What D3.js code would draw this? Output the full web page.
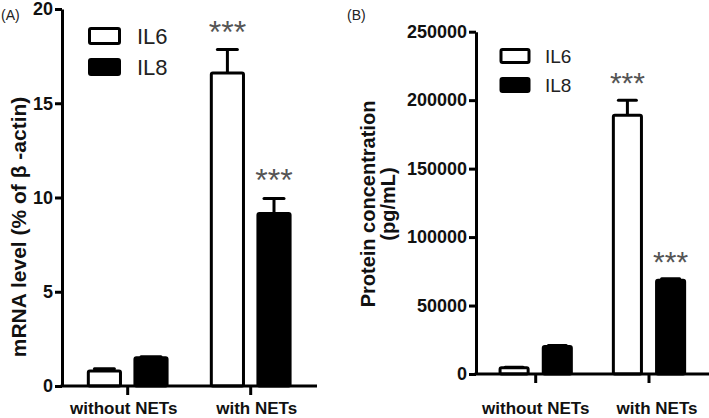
<!DOCTYPE html>
<html>
<head>
<meta charset="utf-8">
<script src="https://cdn.jsdelivr.net/npm/d3@7"></script>
<style>
  html, body { margin: 0; padding: 0; background: #fff; }
  svg { display: block; font-family: "Liberation Sans", Arial, Helvetica, sans-serif; }
</style>
</head>
<body>
<svg id="chart" width="709" height="418"></svg>
<script>
// ---- data ----
const categories = ["without NETs", "with NETs"];
const seriesNames = ["IL6", "IL8"];

// Panel A: mRNA level (% of β-actin)
const mrnaIL6 = [0.8, 16.6];
const mrnaIL6Err = [0.12, 1.25];
const mrnaIL8 = [1.5, 9.15];
const mrnaIL8Err = [0.05, 0.8];
const mrnaTicks = [0, 5, 10, 15, 20];

// Panel B: protein concentration (pg/mL)
const protIL6 = [4500, 189000];
const protIL6Err = [500, 11000];
const protIL8 = [20000, 68500];
const protIL8Err = [800, 1000];
const protTicks = [0, 50000, 100000, 150000, 200000, 250000];

// significance marks (per category, per series)
const sigIL6 = ["", "***"];
const sigIL8 = ["", "***"];

const svg = d3.select("#chart");
const fills = { IL6: "#ffffff", IL8: "#000000" };

function panel(cfg) {
  const g = svg.append("g");
  const y = d3.scaleLinear().domain([0, cfg.ymax]).range([cfg.y0, cfg.y1]);
  const x = d3.scaleBand().domain(categories).range(cfg.xRange).padding(0);
  const xs = d3.scaleBand().domain(seriesNames)
    .range([-cfg.sub, cfg.sub]).paddingInner(cfg.pi).paddingOuter(cfg.pi / 2);

  const rows = [];
  categories.forEach((c, i) => {
    rows.push({ c, s: "IL6", v: cfg.il6[i], e: cfg.il6e[i], sig: sigIL6[i] });
    rows.push({ c, s: "IL8", v: cfg.il8[i], e: cfg.il8e[i], sig: sigIL8[i] });
  });

  // error bars (upward only)
  const eg = g.append("g");
  rows.forEach(d => {
    const cx = x(d.c) + x.bandwidth() / 2 + xs(d.s) + xs.bandwidth() / 2;
    eg.append("line").attr("x1", cx).attr("x2", cx)
      .attr("y1", y(d.v)).attr("y2", y(d.v + d.e))
      .attr("stroke", "#000").attr("stroke-width", 3);
    eg.append("line").attr("x1", cx - cfg.cap).attr("x2", cx + cfg.cap)
      .attr("y1", y(d.v + d.e)).attr("y2", y(d.v + d.e))
      .attr("stroke", "#000").attr("stroke-width", 3).attr("stroke-linecap", "round");
  });

  // bars
  g.append("g").selectAll("rect").data(rows).join("rect")
    .attr("x", d => x(d.c) + x.bandwidth() / 2 + xs(d.s))
    .attr("width", xs.bandwidth())
    .attr("y", d => y(d.v))
    .attr("height", d => y(0) - y(d.v))
    .attr("rx", 1.5)
    .attr("fill", d => fills[d.s])
    .attr("stroke", "#000").attr("stroke-width", 3);

  // significance stars
  g.append("g").selectAll("text").data(rows.filter(d => d.sig)).join("text")
    .attr("x", d => x(d.c) + x.bandwidth() / 2 + xs(d.s) + xs.bandwidth() / 2)
    .attr("y", d => y(d.v + d.e) + cfg.starOff)
    .attr("text-anchor", "middle")
    .attr("font-size", cfg.starSize)
    .attr("fill", "#555")
    .text(d => d.sig);

  // y axis
  const ya = g.append("g").attr("transform", `translate(${cfg.xAxis},0)`)
    .call(d3.axisLeft(y).tickValues(cfg.ticks).tickSize(7).tickSizeOuter(0).tickPadding(2)
      .tickFormat(d3.format("d")));
  ya.select(".domain").attr("stroke-width", 3);
  ya.selectAll(".tick line").attr("stroke-width", 3);
  ya.selectAll(".tick text").attr("font-size", cfg.tickSize).attr("font-weight", "bold")
    .attr("fill", "#111").attr("font-family", "'Liberation Sans', Arial, sans-serif");

  // x axis
  const xa = g.append("g").attr("transform", `translate(0,${cfg.y0})`)
    .call(d3.axisBottom(x).tickSize(9).tickPadding(cfg.catPad).tickSizeOuter(0));
  xa.select(".domain").remove();
  xa.selectAll(".tick line").attr("stroke-width", 3);
  xa.selectAll(".tick text").attr("font-size", cfg.catSize).attr("font-weight", "bold")
    .attr("fill", "#111").attr("font-family", "'Liberation Sans', Arial, sans-serif")
    .attr("dx", (d, i) => cfg.catDx[i]);
  g.append("line").attr("x1", cfg.xAxis - 1.5).attr("x2", cfg.xEnd)
    .attr("y1", cfg.y0).attr("y2", cfg.y0).attr("stroke", "#000").attr("stroke-width", 3);

  // legend
  seriesNames.forEach((s, i) => {
    const ly = cfg.legY + i * cfg.legStep;
    g.append("rect").attr("x", cfg.legX).attr("y", ly)
      .attr("width", cfg.legW).attr("height", cfg.legH).attr("rx", 1.5)
      .attr("fill", fills[s]).attr("stroke", "#000").attr("stroke-width", 3);
    g.append("text").attr("x", cfg.legTextX).attr("y", ly + cfg.legH + 0.5)
      .attr("font-size", cfg.legSize).attr("fill", "#222").text(s);
  });

  // y label
  const yl = g.append("text")
    .attr("transform", `translate(${cfg.ylX},${cfg.ylY}) rotate(-90)`)
    .attr("text-anchor", "middle").attr("font-weight", "bold")
    .attr("font-size", cfg.ylSize).attr("fill", "#111");
  cfg.ylLines.forEach((t, i) => {
    yl.append("tspan").attr("x", 0).attr("dy", i === 0 ? 0 : cfg.ylLineH).text(t);
  });

  // panel letter
  g.append("text").attr("x", cfg.letterX).attr("y", 20)
    .attr("font-size", 14).attr("fill", "#222").text(cfg.letter);
}

panel({
  letter: "(A)", letterX: 1,
  ymax: 20, y0: 386, y1: 9, ticks: mrnaTicks,
  xAxis: 62, xEnd: 317, xRange: [66.2, 312.2],
  sub: 46.6, pi: 0.31, cap: 10,
  il6: mrnaIL6, il6e: mrnaIL6Err, il8: mrnaIL8, il8e: mrnaIL8Err,
  starOff: -7, starSize: 32,
  tickSize: 18, catSize: 17, catPad: 7, catDx: [-4, 6],
  legX: 89.5, legY: 28.5, legStep: 31, legW: 30, legH: 15, legTextX: 137, legSize: 22,
  ylX: 26, ylY: 227, ylSize: 21, ylLines: ["mRNA level (% of \u03b2 -actin)"], ylLineH: 0
});

panel({
  letter: "(B)", letterX: 347,
  ymax: 250000, y0: 374, y1: 31.7, ticks: protTicks,
  xAxis: 476, xEnd: 709, xRange: [479.05, 705.65],
  sub: 43.2, pi: 0.35, cap: 9,
  il6: protIL6, il6e: protIL6Err, il8: protIL8, il8e: protIL8Err,
  starOff: -7, starSize: 30,
  tickSize: 18, catSize: 17, catPad: 19, catDx: [0, 8],
  legX: 501, legY: 49.5, legStep: 29, legW: 28, legH: 13, legTextX: 545, legSize: 19,
  ylX: 375, ylY: 204, ylSize: 20, ylLines: ["Protein concentration", "(pg/mL)"], ylLineH: 20
});
</script>
</body>
</html>
